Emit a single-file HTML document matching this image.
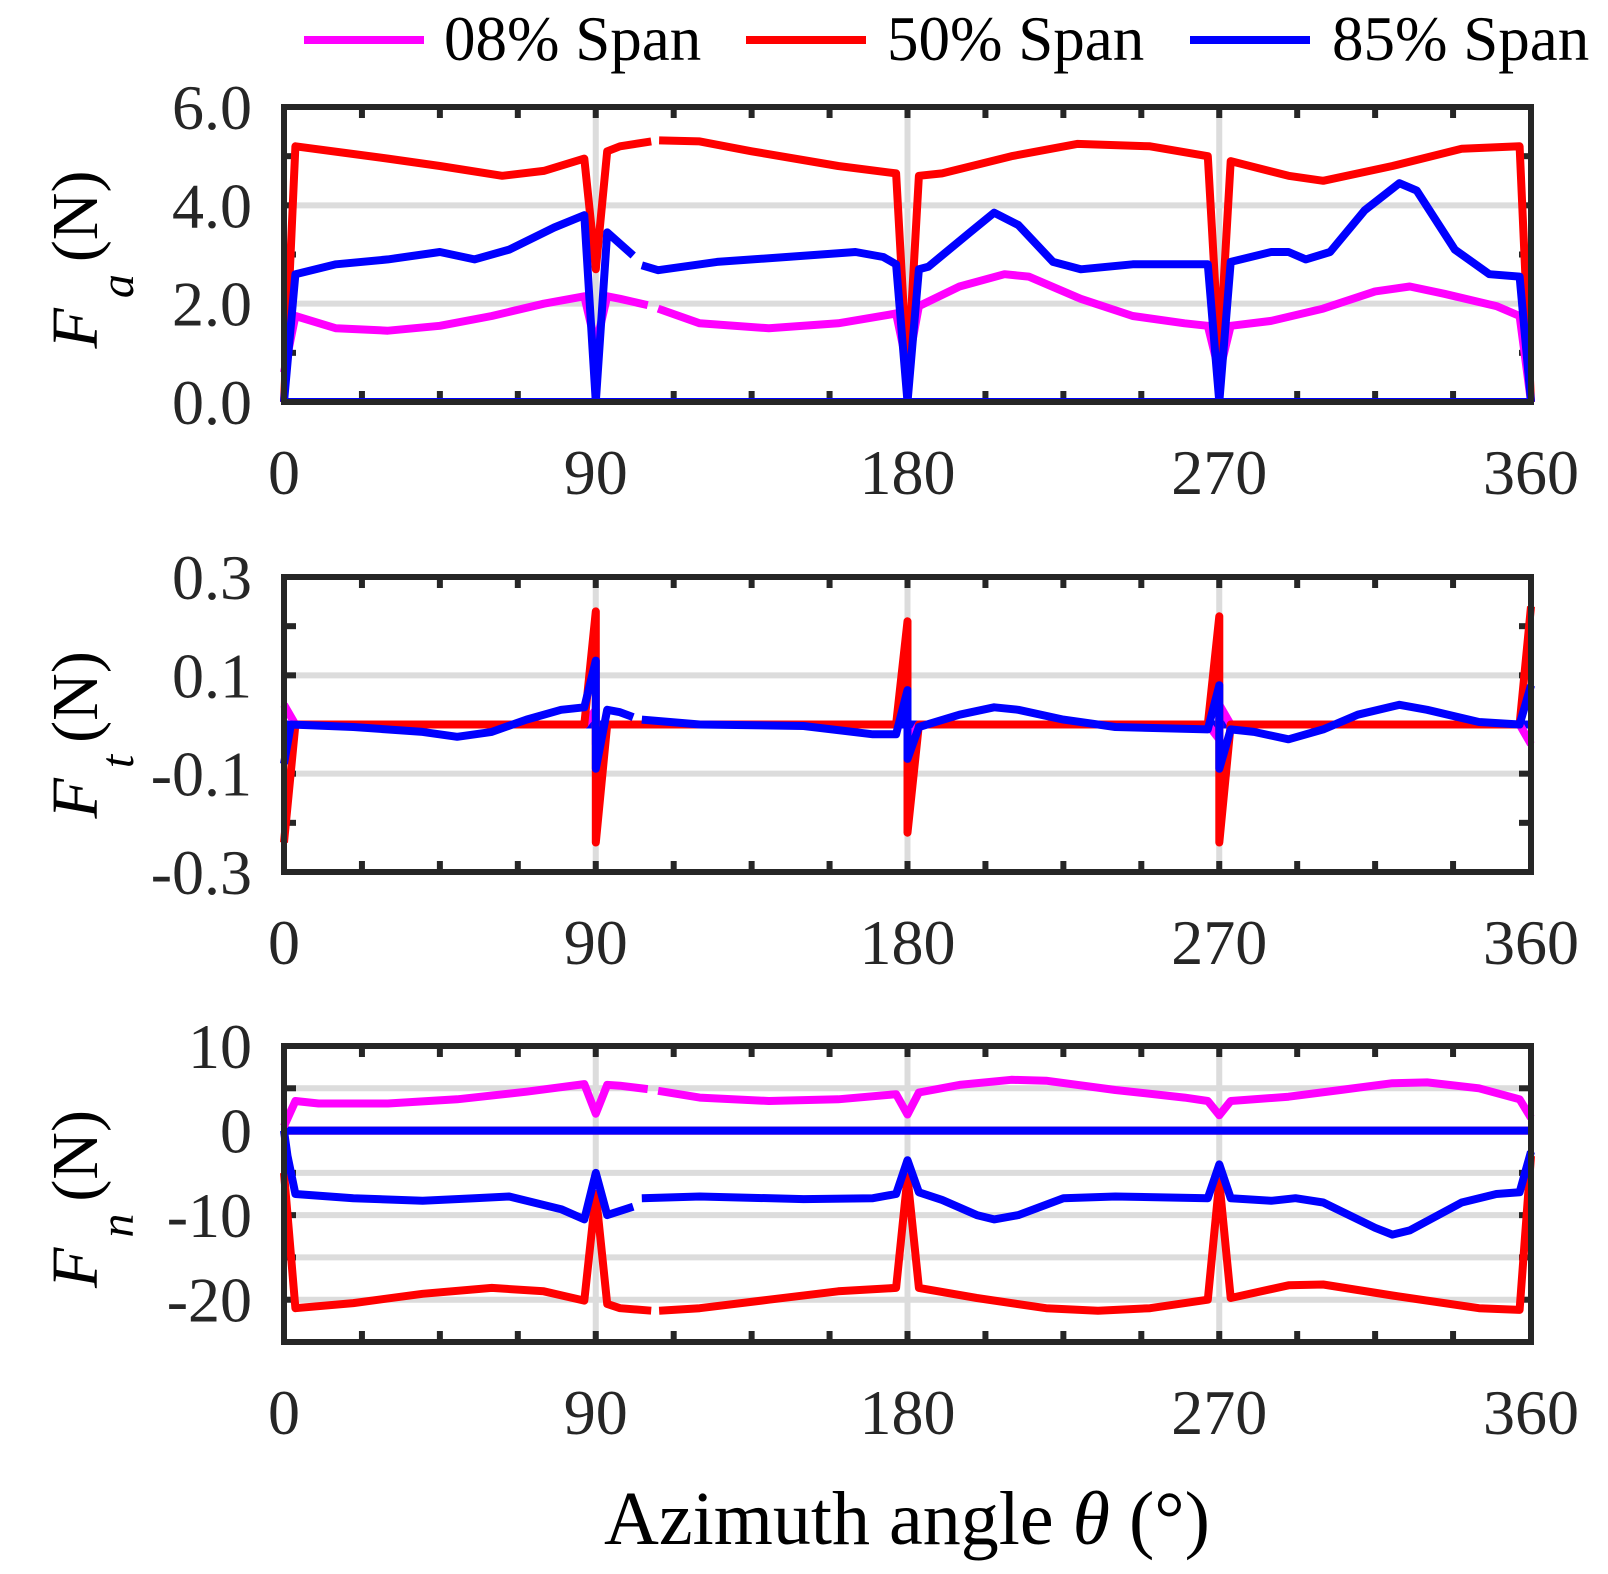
<!DOCTYPE html>
<html><head><meta charset="utf-8">
<style>
html,body{margin:0;padding:0;background:#fff;}
svg{display:block;font-family:"Liberation Serif",serif;}
</style></head>
<body>
<svg id="chart" width="1608" height="1574" viewBox="0 0 1608 1574" xmlns="http://www.w3.org/2000/svg">
<g id="legend">
  <line x1="304" y1="40" x2="424" y2="40" stroke="#ff00ff" stroke-width="8"/>
  <text x="444" y="60" font-size="63" fill="#000">08% Span</text>
  <line x1="746" y1="40" x2="866" y2="40" stroke="#ff0000" stroke-width="8"/>
  <text x="887" y="60" font-size="63" fill="#000">50% Span</text>
  <line x1="1190" y1="40" x2="1310" y2="40" stroke="#0000ff" stroke-width="8"/>
  <text x="1332" y="60" font-size="63" fill="#000">85% Span</text>
</g>
<text x="907" y="1544" font-size="76" text-anchor="middle" fill="#000">Azimuth angle <tspan font-style="italic">θ</tspan> (°)</text>
</svg>
<script>
// ---------- Panel 1: Fa ----------
const faX08 = [0,3.3,15,30,45,60,75,86.7,90,93.3,97,105,null,108,120,140,160,176.7,180,183.3,195,208,215,230,245,260,266.7,270,273.3,285,300,315,325,335,350,356.7,360];
const faY08 = [0.6,1.75,1.5,1.45,1.55,1.75,2.0,2.15,1.15,2.15,2.1,1.97,null,1.9,1.6,1.5,1.6,1.8,0.7,1.95,2.35,2.6,2.55,2.1,1.75,1.6,1.55,0.6,1.55,1.65,1.9,2.25,2.35,2.2,1.95,1.75,0];
const faX50 = [0,3.3,30,45,63,75,86.7,90,93.3,97,106,null,108.3,120,135,160,176.7,180,183.3,190,210,229,250,266.7,270,273.3,290,300,320,340,356.7,360];
const faY50 = [0,5.2,4.95,4.8,4.6,4.7,4.95,2.7,5.1,5.2,5.3,null,5.32,5.3,5.1,4.8,4.65,0.5,4.6,4.65,5.0,5.25,5.2,5.0,0.9,4.9,4.6,4.5,4.8,5.15,5.2,0];
const faX85 = [0,3.3,15,30,45,55,65,78,86.7,90,93.3,100.8,null,103.3,108,125,145,165,173,176.7,180,183.3,186,198,205,212,222,230,245,266.7,270,273.3,285,290,295,302,312,322,327,338,348,356.7,360];
const faY85 = [0,2.6,2.8,2.9,3.05,2.9,3.1,3.55,3.8,0,3.45,2.98,null,2.78,2.68,2.85,2.95,3.05,2.95,2.8,0,2.7,2.75,3.45,3.85,3.6,2.85,2.7,2.8,2.8,0,2.85,3.05,3.05,2.9,3.05,3.9,4.45,4.3,3.1,2.6,2.55,0];
// ---------- Panel 2: Ft ----------
const ftX08 = [0,3.3,86.7,90,90,93.3,176.7,180,180,183.3,266.7,270,270,273.3,356.7,360];
const ftY08 = [0.04,0,0,0.03,-0.04,0,0,0.03,-0.04,0,0,-0.03,0.04,0,0,-0.04];
const ftX50 = [0,3.3,86.7,90,90,93.3,176.7,180,180,183.3,266.7,270,270,273.3,356.7,360];
const ftY50 = [-0.24,0,0,0.23,-0.24,0,0,0.21,-0.22,0,0,0.22,-0.24,0,0,0.24];
const ftX85 = [0,2,20,40,50,60,70,80,86.7,90,90,93.3,97,100.8,null,103.3,120,150,170,176.7,180,180,183.3,195,205,212,225,240,266.7,270,270,273.3,280,290,300,310,322,330,345,356.7,360];
const ftY85 = [-0.08,0,-0.005,-0.015,-0.025,-0.015,0.01,0.03,0.035,0.13,-0.09,0.03,0.025,0.015,null,0.01,0.0,-0.003,-0.02,-0.02,0.07,-0.07,-0.005,0.02,0.035,0.03,0.01,-0.005,-0.01,0.08,-0.09,-0.01,-0.015,-0.03,-0.01,0.02,0.04,0.03,0.005,0.0,0.08];
// ---------- Panel 3: Fn ----------
const fnX08 = [0,3.3,10,30,50,70,86.7,90,93.3,97,105,null,108,120,140,160,176.7,180,183.3,195,210,220,240,260,266.7,270,273.3,290,305,320,330,345,356.7,360];
const fnY08 = [0.5,3.5,3.2,3.2,3.7,4.6,5.5,2.0,5.4,5.3,4.9,null,4.7,3.9,3.5,3.7,4.3,1.9,4.5,5.4,6.0,5.9,4.8,3.9,3.5,1.8,3.5,4.0,4.8,5.6,5.7,5.0,3.7,1.5];
const fnX50 = [0,3.3,20,40,60,75,86.7,90,93.3,97,106,null,108.3,120,140,160,176.7,180,183.3,200,220,235,250,266.7,270,273.3,290,300,320,345,356.7,360];
const fnY50 = [-5,-21,-20.4,-19.3,-18.6,-19,-20.1,-7.5,-20.5,-21,-21.3,null,-21.3,-21,-20,-19,-18.6,-5.5,-18.6,-19.8,-21,-21.3,-21,-20,-6,-19.8,-18.3,-18.2,-19.5,-21,-21.2,-3];
const fnX85 = [0,1,3.3,20,40,55,65,80,86.7,90,93.3,100.8,null,103.3,120,150,170,176.7,180,183.3,190,200,205,212,225,240,266.7,270,273.3,285,292,300,315,320,325,340,350,356.7,360];
const fnY85 = [0,-3,-7.5,-8,-8.3,-8,-7.8,-9.3,-10.5,-5,-10,-9,null,-8,-7.8,-8.1,-8,-7.5,-3.5,-7.3,-8.2,-10,-10.5,-10,-8,-7.8,-8,-4,-8,-8.3,-8,-8.5,-11.5,-12.3,-11.8,-8.5,-7.5,-7.3,-2.5];

const xTicks = [0,90,180,270,360];
const xTickLabels = ['0','90','180','270','360'];

const NS='http://www.w3.org/2000/svg';
const svg=document.getElementById('chart');
const X0=284, X1=1531;
function xs(v){return X0+(v-0)/(360-0)*(X1-X0);}
function mk(tag,attrs,parent){const e=document.createElementNS(NS,tag);for(const k in attrs)e.setAttribute(k,attrs[k]);(parent||svg).appendChild(e);return e;}

const panels=[
 {key:'fa',top:107,bot:402,min:0,max:6,major:[0,2,4,6],labels:['0.0','2.0','4.0','6.0'],grid:[2,4],minor:[1,3,5],sub:'a',
  series:[[faX08,faY08,'#ff00ff','08'],[faX50,faY50,'#ff0000','50'],[faX85,faY85,'#0000ff','85']]},
 {key:'ft',top:577,bot:872,min:-0.3,max:0.3,major:[-0.3,-0.1,0.1,0.3],labels:['-0.3','-0.1','0.1','0.3'],grid:[-0.1,0.1],minor:[-0.2,0.2],sub:'t',
  series:[[ftX08,ftY08,'#ff00ff','08'],[ftX50,ftY50,'#ff0000','50'],[ftX85,ftY85,'#0000ff','85']]},
 {key:'fn',top:1046,bot:1342,min:-25,max:10,major:[-20,-10,0,10],labels:['-20','-10','0','10'],grid:[-20,-15,-10,-5,5],minor:[-15,-5,5],sub:'n',
  series:[[fnX08,fnY08,'#ff00ff','08'],[fnX50,fnY50,'#ff0000','50'],[fnX85,fnY85,'#0000ff','85']]}
];

panels.forEach(p=>{
  const ys=v=>p.bot-(v-p.min)/(p.max-p.min)*(p.bot-p.top);
  const g=mk('g',{});
  
  
  p.grid.forEach(v=>{
    const l=mk('line',{x1:X0,x2:X1,y1:ys(v),y2:ys(v),stroke:'#dcdcdc','stroke-width':6},g);
    
    
  });
  [90,180,270].forEach(v=>{
    const l=mk('line',{x1:xs(v),x2:xs(v),y1:p.top,y2:p.bot,stroke:'#dcdcdc','stroke-width':6},g);
    
    
  });
  for(let d=0;d<=360;d+=22.5){
    [[p.top,p.top+11],[p.bot,p.bot-11]].forEach(([a,b])=>{
      const t=mk('line',{x1:xs(d),x2:xs(d),y1:a,y2:b,stroke:'#262626','stroke-width':6},g);
      
      
    });
  }
  p.major.concat(p.minor).forEach(v=>{
    [[X0,X0+12],[X1,X1-12]].forEach(([a,b])=>{
      const t=mk('line',{x1:a,x2:b,y1:ys(v),y2:ys(v),stroke:'#262626','stroke-width':6},g);
      
      
    });
  });
  const clip=mk('clipPath',{id:'clip-'+p.key},g);
  mk('rect',{x:X0-4,y:p.top-2,width:X1-X0+8,height:p.bot-p.top+4},clip);
  p.series.forEach(([xa,ya,col,nm])=>{
    const z=mk('line',{x1:xs(360),x2:xs(0),y1:ys(Math.max(p.min,0)),y2:ys(Math.max(p.min,0)),stroke:col,'stroke-width':8,'clip-path':'url(#clip-'+p.key+')'},g);
    
    
  });
  p.series.forEach(([xa,ya,col,nm])=>{
    let d='',pen=false;
    for(let i=0;i<xa.length;i++){
      if(xa[i]===null||ya[i]===null){pen=false;continue;}
      d+=(pen?'L':'M')+xs(xa[i]).toFixed(1)+','+ys(ya[i]).toFixed(1);pen=true;
    }
    const path=mk('path',{d:d,fill:'none',stroke:col,'stroke-width':8,'stroke-linejoin':'round','clip-path':'url(#clip-'+p.key+')'},g);
    
    
  });
  const fr=mk('rect',{x:X0,y:p.top,width:X1-X0,height:p.bot-p.top,fill:'none',stroke:'#262626','stroke-width':6},g);
  
  
  p.major.forEach((v,i)=>{
    const t=mk('text',{x:252,y:ys(v)+22,'font-size':64,'text-anchor':'end',fill:'#262626'},g);
    t.textContent=p.labels[i];
    
    
  });
  xTicks.forEach((v,i)=>{
    const t=mk('text',{x:xs(v),y:p.bot+92,'font-size':64,'text-anchor':'middle',fill:'#262626'},g);
    t.textContent=xTickLabels[i];
    
    
  });
  const cy=(p.top+p.bot)/2;
  const yt=mk('text',{x:0,y:0,'font-size':66,fill:'#000',transform:'translate(97,'+(cy+94)+') rotate(-90)'},g);
  
  
  const t1=mk('tspan',{'font-style':'italic'},yt);t1.textContent='F';
  const t2=mk('tspan',{'font-style':'italic','font-size':48,dx:10,dy:36},yt);t2.textContent=p.sub;
  const t3=mk('tspan',{dx:12,dy:-36},yt);t3.textContent='(N)';
});
</script>
</body></html>
